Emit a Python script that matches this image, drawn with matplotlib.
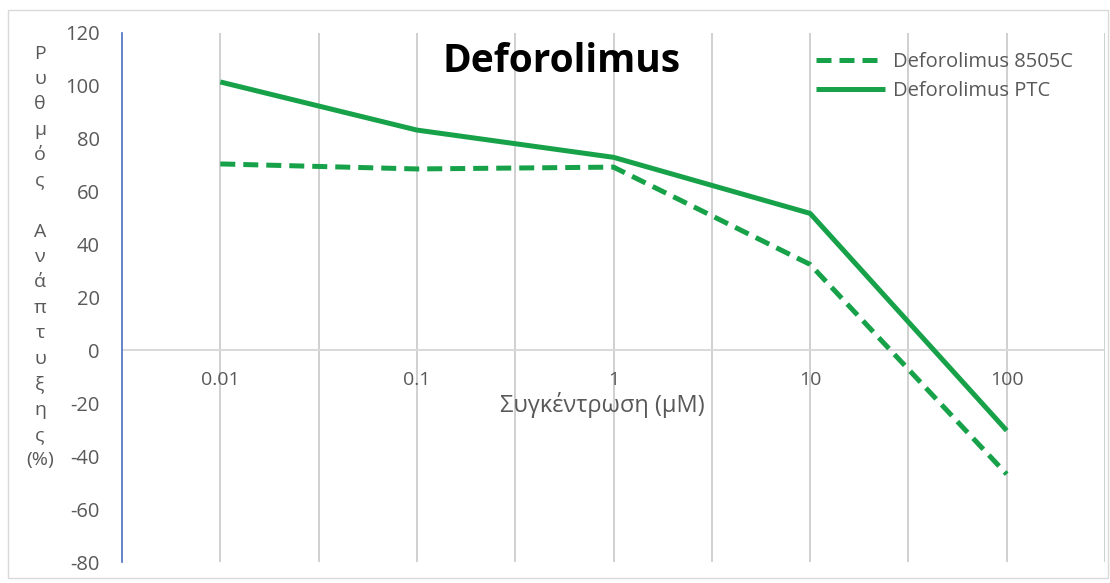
import matplotlib
matplotlib.use('Agg')
import matplotlib.pyplot as plt
from matplotlib.patches import Rectangle

# Δεδομένα από το γράφημα
concentrations = ['0.01', '0.1', '1', '10', '100']
growth_8505c = [70.5, 68.6, 69.3, 32.5, -46.8]
growth_ptc = [101.5, 83.3, 73.0, 51.8, -30.3]

GREEN = '#17a24a'
GRAY = '#595959'

plt.rcParams['font.family'] = ['Open Sans', 'DejaVu Sans']
plt.rcParams['axes.unicode_minus'] = False

fig = plt.figure(figsize=(11.1, 5.83), dpi=100)
ax = fig.add_axes([122 / 1110, 1 - 562 / 583, (1105 - 122) / 1110, (562 - 33) / 583])

x = list(range(len(concentrations)))

# κάθετες γραμμές πλέγματος κάθε μισή κατηγορία
for g in [i * 0.5 for i in range(0, 10)]:
    ax.axvline(g, color='#d0d0d0', lw=1.4, zorder=0)
ax.axhline(0, color='#d9d9d9', lw=1.4, zorder=0)

ax.plot(x, growth_8505c, color=GREEN, lw=3.6, ls=(0, (3.0, 1.6)), label='Deforolimus 8505C',
        solid_capstyle='butt', dash_capstyle='butt')
ax.plot(x, growth_ptc, color=GREEN, lw=3.6, label='Deforolimus PTC', solid_capstyle='butt')

ax.set_xlim(-0.5, 4.5)
ax.set_ylim(-80, 120)
ax.set_yticks(range(-80, 121, 20))
ax.set_xticks(x)
ax.set_xticklabels(concentrations)

for s in ['top', 'right']:
    ax.spines[s].set_visible(False)
ax.spines['bottom'].set_position(('data', 0))
ax.spines['bottom'].set_visible(False)
ax.spines['left'].set_color('#4a6fc0')
ax.spines['left'].set_linewidth(1.2)

ax.tick_params(axis='x', length=0, pad=15, labelsize=14, labelcolor=GRAY)
ax.tick_params(axis='y', length=0, pad=16, labelsize=14.5, labelcolor=GRAY)

fig.text(602 / 1110, 1 - 405 / 583, 'Συγκέντρωση (μΜ)', ha='center', va='center',
         fontsize=17, color=GRAY)

ylabel_chars = list('Ρυθμός') + [' '] + list('Ανάπτυξης') + ['(%)']
fig.text(40 / 1110, 1 - 257 / 583, '\n'.join(ylabel_chars), ha='center', va='center',
         fontsize=14, color=GRAY, linespacing=1.53)

fig.text(562 / 1110, 1 - 62 / 583, 'Deforolimus', ha='center', va='center',
         fontsize=28, fontweight='bold', color='black')

leg = ax.legend(loc='upper left', bbox_to_anchor=(808 / 1110, 1 - 44 / 583),
                bbox_transform=fig.transFigure, frameon=False, fontsize=14.5,
                handlelength=3.4, handletextpad=0.4, labelspacing=0.45, borderaxespad=0)
for t in leg.get_texts():
    t.set_color(GRAY)

fig.patches.append(Rectangle((8 / 1110, 1 - 578 / 583), 1100 / 1110, 568 / 583,
                             transform=fig.transFigure, fill=False, ec='#d9d9d9', lw=1))

fig.savefig('out.png', dpi=100)
plt.close(fig)
